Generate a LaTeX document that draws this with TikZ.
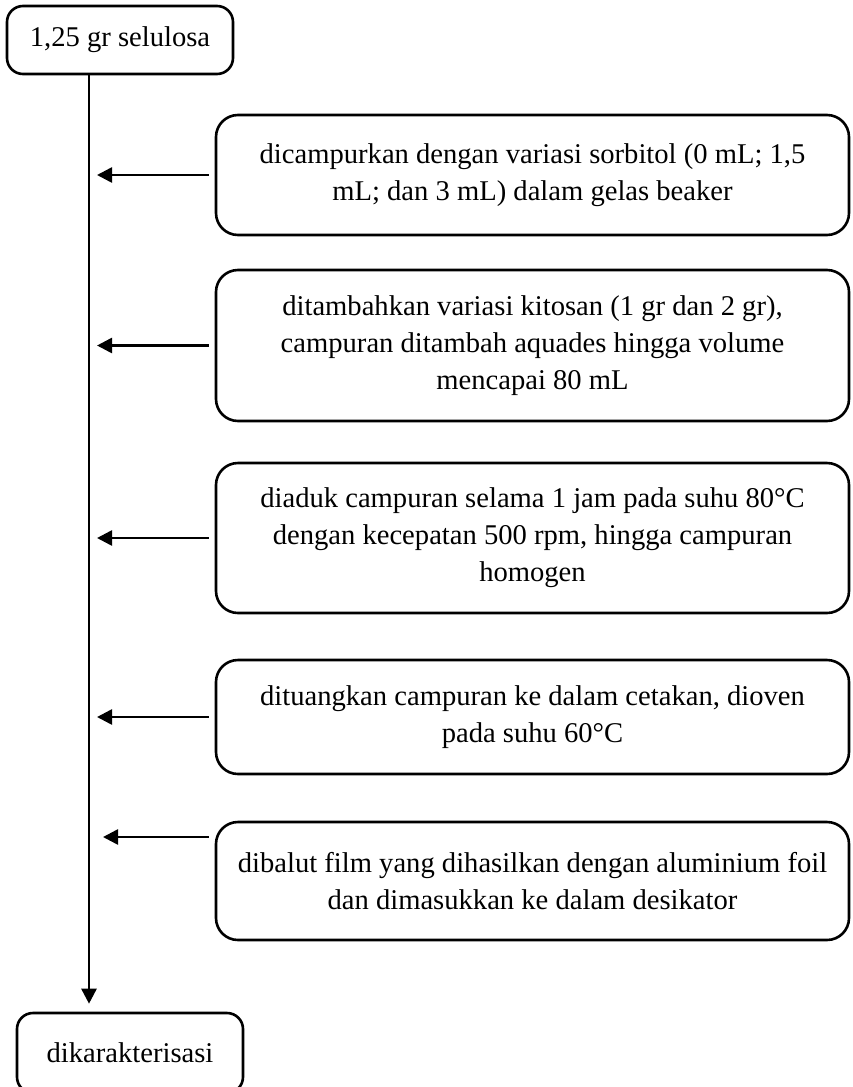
\documentclass[tikz,border=0pt]{standalone}
\usepackage{fontspec}
\setmainfont{Liberation Serif}
\usetikzlibrary{arrows.meta, positioning}
\tikzset{
  procbox/.style={draw, line width=1.3pt, rounded corners=11pt, minimum width=316.5pt, align=center, inner sep=4pt, font=\fontsize{14.3}{18.5}\selectfont},
  endbox/.style={draw, line width=1.3pt, rounded corners=8pt, minimum width=113pt, minimum height=34pt, font=\fontsize{14.3}{18.5}\selectfont},
}

\begin{document}
\begin{tikzpicture}[x=0.5pt, y=-0.5pt, >={Triangle[length=7.5pt,width=7.5pt]}, line width=1.3pt]
\useasboundingbox (0,0) rectangle (852,1087);
\node[endbox] (selulosa) at (120,40) {1,25 gr selulosa};
\node[endbox, minimum height=40pt] (karakter) at (130,1053) {dikarakterisasi};
\coordinate (spine) at (89,0);
\node[procbox, minimum height=60pt] (campur) at (532.5,175) {dicampurkan dengan variasi sorbitol (0 mL; 1,5\\mL; dan 3 mL) dalam gelas beaker};
\node[procbox, minimum height=75.5pt] (tambah) at (532.5,345.5) {ditambahkan variasi kitosan (1 gr dan 2 gr),\\campuran ditambah aquades hingga volume\\mencapai 80 mL};
\node[procbox, minimum height=75pt] (aduk) at (532.5,538) {diaduk campuran selama 1 jam pada suhu 80°C\\dengan kecepatan 500 rpm, hingga campuran\\homogen};
\node[procbox, minimum height=57pt] (tuang) at (532.5,717) {dituangkan campuran ke dalam cetakan, dioven\\pada suhu 60°C};
\node[procbox, minimum height=59pt] (balut) at (532.5,881) {dibalut film yang dihasilkan dengan aluminium foil\\dan dimasukkan ke dalam desikator};
\draw[->] (spine |- selulosa.south) -- ([yshift=4pt]spine |- karakter.north);
\foreach \b in {campur, tambah, aduk, tuang}
  \draw[->] ([xshift=-3pt]\b.west) -- ([xshift=4pt]spine |- \b.west);
\draw[->] ([xshift=-3pt, yshift=22pt]balut.west) -- ([xshift=7pt, yshift=22pt]spine |- balut.west);
\end{tikzpicture}
\end{document}
